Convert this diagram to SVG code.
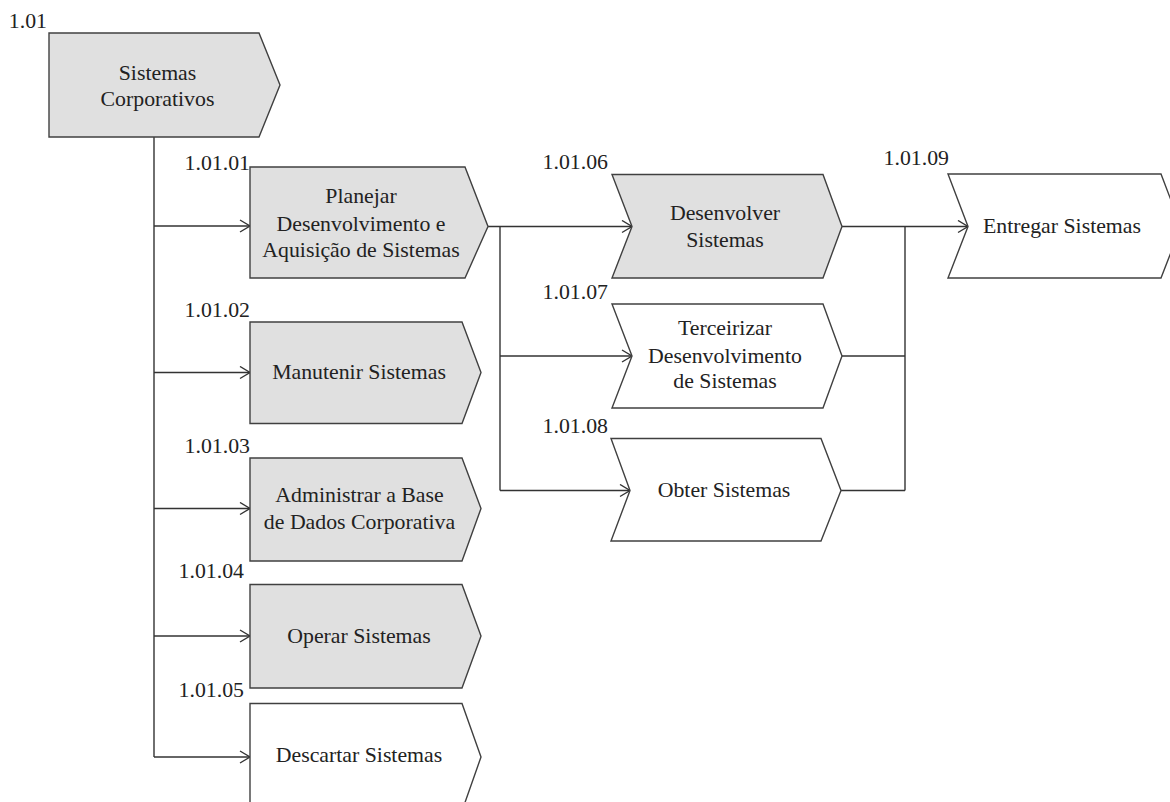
<svg xmlns="http://www.w3.org/2000/svg" width="1170" height="802" viewBox="0 0 1170 802">
<style>
.g{fill:#e0e0e0;stroke:#404040;stroke-width:1.4}
.w{fill:#ffffff;stroke:#404040;stroke-width:1.4}
text{font-family:'Liberation Serif','Times New Roman',serif;font-size:21.8px;fill:#222}
.t{text-anchor:middle}
.l{text-anchor:end}
.c{fill:none;stroke:#333;stroke-width:1.4}
</style>
<defs>
<marker id="ar" markerWidth="14" markerHeight="14" refX="11" refY="7" orient="auto" markerUnits="userSpaceOnUse">
<path d="M1,1 L11,7 L1,13" fill="none" stroke="#333" stroke-width="1.4"/>
</marker>
</defs>
<rect width="1170" height="802" fill="#fff"/>
<g id="connectors">
<path class="c" d="M154,137 V757"/>
<path class="c" d="M154,226 H250" marker-end="url(#ar)"/>
<path class="c" d="M154,372.5 H250" marker-end="url(#ar)"/>
<path class="c" d="M154,508.5 H250" marker-end="url(#ar)"/>
<path class="c" d="M154,636 H250" marker-end="url(#ar)"/>
<path class="c" d="M154,757 H250" marker-end="url(#ar)"/>
<path class="c" d="M488,226.5 H632" marker-end="url(#ar)"/>
<path class="c" d="M500,226.5 V490.5"/>
<path class="c" d="M500,356 H632" marker-end="url(#ar)"/>
<path class="c" d="M500,490.5 H630" marker-end="url(#ar)"/>
<path class="c" d="M842,226.5 H968" marker-end="url(#ar)"/>
<path class="c" d="M905,226.5 V490.5"/>
<path class="c" d="M842,356 H905"/>
<path class="c" d="M841,490.5 H905"/>
</g>
<g id="n101">
<path class="g" d="M49,33 H259 L280,85 L259,137 H49 Z"/>
<text class="l" x="47" y="28">1.01</text>
<text class="t" x="157.5" y="80">Sistemas</text>
<text class="t" x="157.5" y="106">Corporativos</text>
</g>
<g id="n10101">
<path class="g" d="M250,167 H465 L488,226.5 L465,278 H250 Z"/>
<text class="l" x="250" y="170">1.01.01</text>
<text class="t" x="361" y="203">Planejar</text>
<text class="t" x="361" y="231">Desenvolvimento e</text>
<text class="t" x="361" y="257">Aquisição de Sistemas</text>
</g>
<g id="n10102">
<path class="g" d="M250,322 H462 L481,372.5 L462,423.5 H250 Z"/>
<text class="l" x="250" y="317">1.01.02</text>
<text class="t" x="359" y="379">Manutenir Sistemas</text>
</g>
<g id="n10103">
<path class="g" d="M250,458 H462 L481,508.5 L462,561 H250 Z"/>
<text class="l" x="250" y="453">1.01.03</text>
<text class="t" x="359.5" y="502">Administrar a Base</text>
<text class="t" x="359.5" y="529">de Dados Corporativa</text>
</g>
<g id="n10104">
<path class="g" d="M250,584.5 H462 L481,636 L462,688 H250 Z"/>
<text class="l" x="244" y="578">1.01.04</text>
<text class="t" x="359" y="643">Operar Sistemas</text>
</g>
<g id="n10105">
<path class="w" d="M250,703.5 H462 L481,757 L462,811 H250 Z"/>
<text class="l" x="244" y="697">1.01.05</text>
<text class="t" x="359" y="762">Descartar Sistemas</text>
</g>
<g id="n10106">
<path class="g" d="M612,174.5 H823 L842,226.5 L823,278 H612 L632,226.5 Z"/>
<text class="l" x="608" y="169">1.01.06</text>
<text class="t" x="725" y="220">Desenvolver</text>
<text class="t" x="725" y="247">Sistemas</text>
</g>
<g id="n10107">
<path class="w" d="M612,304 H823 L842,356 L823,408 H612 L632,356 Z"/>
<text class="l" x="608" y="299">1.01.07</text>
<text class="t" x="725" y="335">Terceirizar</text>
<text class="t" x="725" y="363">Desenvolvimento</text>
<text class="t" x="725" y="388">de Sistemas</text>
</g>
<g id="n10108">
<path class="w" d="M611,438.5 H821 L841,490.5 L821,541 H611 L630,490.5 Z"/>
<text class="l" x="608" y="433">1.01.08</text>
<text class="t" x="724" y="497">Obter Sistemas</text>
</g>
<g id="n10109">
<path class="w" d="M948,174 H1161 L1181,226.5 L1161,278 H948 L968,226.5 Z"/>
<text class="l" x="949" y="165">1.01.09</text>
<text class="t" x="1062" y="233">Entregar Sistemas</text>
</g>
</svg>
